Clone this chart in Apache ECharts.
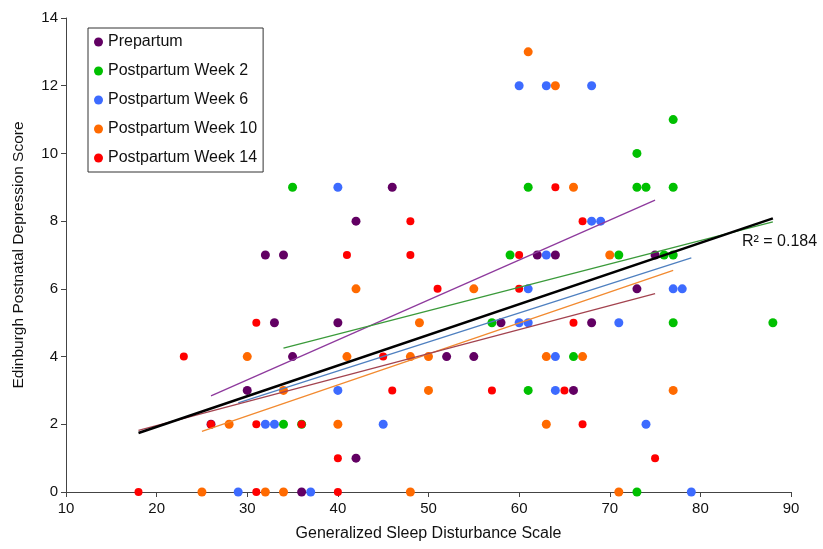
<!DOCTYPE html>
<html>
<head>
<meta charset="utf-8">
<script src="https://cdn.jsdelivr.net/npm/echarts@6/dist/echarts.min.js"></script>
<style>
  html, body { margin: 0; padding: 0; background: #fff; }
  #main { width: 823px; height: 549px; }
</style>
</head>
<body>
<div id="main"></div>
<script>
// groups, in legend order
var groupNames = ['Prepartum', 'Postpartum Week 2', 'Postpartum Week 6', 'Postpartum Week 10', 'Postpartum Week 14'];

// [GSDS, EPDS] pairs
var prepartum = [[32,7],[34,7],[62,7],[64,7],[75,7],[46,9],[42,8],[40,5],[33,5],[58,5],[68,5],
  [73,6],[35,4],[52,4],[55,4],[30,3],[66,3],[26,2],[42,1],[36,0]];
var week2 = [[77,11],[73,10],[35,9],[61,9],[73,9],[74,9],[77,9],[59,7],[71,7],[76,7],[77,7],
  [57,5],[77,5],[88,5],[66,4],[61,3],[34,2],[36,2],[73,0]];
var week6 = [[60,12],[63,12],[68,12],[40,9],[68,8],[69,8],[63,7],[61,6],[77,6],[78,6],[60,5],
  [61,5],[71,5],[64,4],[40,3],[64,3],[32,2],[33,2],[45,2],[74,2],[29,0],[37,0],[79,0]];
var week10 = [[61,13],[64,12],[66,9],[70,7],[42,6],[55,6],[49,5],[41,4],[48,4],[50,4],[63,4],
  [67,4],[30,4],[50,3],[34,3],[77,3],[28,2],[40,2],[63,2],[25,0],[32,0],[34,0],[48,0],[71,0]];
var week14 = [[64,9],[48,8],[67,8],[41,7],[48,7],[60,7],[51,6],[60,6],[31,5],[66,5],[23,4],
  [45,4],[46,3],[57,3],[65,3],[26,2],[31,2],[36,2],[67,2],[40,1],[75,1],[18,0],[31,0],[40,0]];

// fitted lines as drawn (slope, intercept), per group and overall
var fitSlopes = [0.118, 0.0691, 0.0857, 0.0915, 0.0709];
var fitIntercepts = [-0.228, 1.901, 0.147, -0.498, 0.544];
var overallFit = [0.0906, 0.109];
var r2Label = 'R² = 0.184';

var dotColors = ['#620063', '#00c000', '#3d6bff', '#ff6a00', '#ff0000'];
var lineColors = ['#8e3a9d', '#3a9a3a', '#4f80c0', '#f28a30', '#a3434f'];
var groups = [prepartum, week2, week6, week10, week14];

function xRange(pts) {
  var xs = pts.map(function (p) { return p[0]; });
  return [Math.min.apply(null, xs), Math.max.apply(null, xs)];
}
function fitLine(pts, slope, icpt) {
  var r = xRange(pts);
  return [[r[0], icpt + slope * r[0]], [r[1], icpt + slope * r[1]]];
}

var font = "'Liberation Sans', Arial, sans-serif";
var series = [];
groups.forEach(function (pts, i) {
  series.push({
    name: groupNames[i],
    type: 'scatter',
    data: pts,
    symbolSize: i === 4 ? 8 : 9,
    itemStyle: { color: dotColors[i], opacity: 1 },
    z: 2 + i
  });
});
groups.forEach(function (pts, i) {
  series.push({
    name: groupNames[i] + ' fit',
    type: 'line',
    data: fitLine(pts, fitSlopes[i], fitIntercepts[i]),
    symbol: 'none',
    lineStyle: { color: lineColors[i], width: 1.3 },
    silent: true,
    z: 10
  });
});
var allPts = [].concat(prepartum, week2, week6, week10, week14);
series.push({
  name: 'All',
  type: 'line',
  data: fitLine(allPts, overallFit[0], overallFit[1]),
  symbol: 'none',
  lineStyle: { color: '#000', width: 2.6 },
  silent: true,
  z: 11
});

var chart = echarts.init(document.getElementById('main'));
chart.setOption({
  animation: false,
  textStyle: { fontFamily: font },
  grid: { left: 66, right: 32, top: 18, bottom: 57 },
  legend: {
    data: groupNames,
    orient: 'vertical',
    left: 88,
    top: 28,
    padding: [6, 6, 6, 6],
    itemGap: 13,
    itemWidth: 9,
    itemHeight: 9,
    icon: 'circle',
    borderColor: '#333',
    borderWidth: 1,
    textStyle: { fontSize: 16, color: '#111', fontFamily: font }
  },
  xAxis: {
    type: 'value',
    min: 10, max: 90, interval: 10,
    name: 'Generalized Sleep Disturbance Scale',
    nameLocation: 'middle',
    nameGap: 34,
    nameTextStyle: { fontSize: 16, color: '#111' },
    axisLine: { lineStyle: { color: '#444' } },
    axisTick: { length: 5, lineStyle: { color: '#444' } },
    axisLabel: { fontSize: 15, color: '#111', margin: 9 },
    splitLine: { show: false }
  },
  yAxis: {
    type: 'value',
    min: 0, max: 14, interval: 2,
    name: 'Edinburgh Postnatal Depression Score',
    nameLocation: 'middle',
    nameGap: 39,
    nameTextStyle: { fontSize: 15.5, color: '#111' },
    axisLine: { show: true, lineStyle: { color: '#444' } },
    axisTick: { show: true, length: 5, lineStyle: { color: '#444' } },
    axisLabel: { fontSize: 15, color: '#111', margin: 8 },
    splitLine: { show: false }
  },
  graphic: [{
    type: 'text',
    left: 742,
    top: 234,
    style: { text: r2Label, fontSize: 16, fill: '#111', fontFamily: font }
  }],
  series: series
});
</script>
</body>
</html>
